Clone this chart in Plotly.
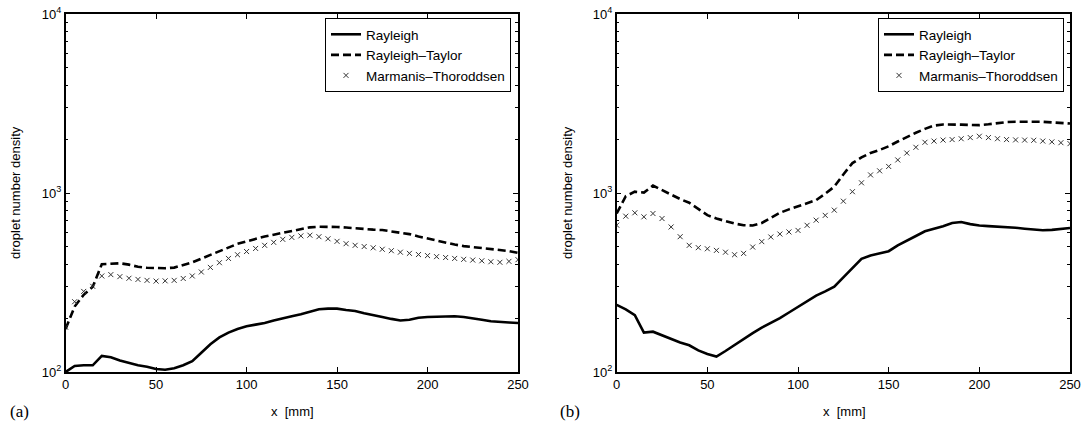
import plotly.graph_objects as go

x_mm = list(range(0, 251, 5))

a_rayleigh = [100, 108, 109, 109, 123, 121, 116, 112, 109, 107, 104, 103, 105, 109, 115, 128, 143, 156, 166, 174,
              180, 184, 188, 194, 200, 205, 210, 218, 224, 226, 226, 222, 219, 213, 207, 203, 198, 194, 196, 201,
              203, 204, 204, 205, 203, 200, 196, 192, 190, 189, 188]
a_rt = [174, 232, 270, 299, 400, 404, 405, 398, 387, 382, 380, 380, 383, 395, 410, 430, 451, 475, 499, 520,
        537, 555, 571, 585, 599, 617, 634, 643, 648, 648, 646, 641, 634, 628, 624, 621, 612, 600, 589, 572,
        556, 541, 528, 515, 505, 499, 494, 489, 484, 474, 463]
a_mt = [178, 247, 282, 301, 344, 350, 341, 334, 329, 325, 322, 323, 325, 333, 344, 362, 384, 408, 431, 452,
        471, 490, 510, 530, 551, 565, 576, 581, 570, 555, 537, 521, 510, 502, 494, 485, 476, 467, 460, 453,
        447, 441, 436, 431, 426, 422, 418, 413, 410, 415, 424]

b_rayleigh = [237, 224, 208, 166, 168, 160, 152, 146, 141, 132, 126, 122, 131, 142, 154, 165, 177, 188, 200, 215,
              231, 248, 267, 282, 300, 338, 380, 429, 448, 460, 473, 510, 544, 575, 611, 630, 652, 680, 688, 670,
              658, 653, 650, 647, 640, 632, 625, 619, 622, 630, 638]
b_rt = [768, 960, 1017, 1005, 1100, 1040, 975, 925, 882, 815, 752, 720, 696, 675, 661, 658, 680, 730, 775, 810,
        845, 880, 913, 990, 1085, 1270, 1469, 1580, 1672, 1740, 1824, 1940, 2056, 2170, 2282, 2380, 2414, 2420, 2410, 2400,
        2393, 2420, 2460, 2489, 2500, 2505, 2510, 2500, 2480, 2460, 2444]
b_mt = [661, 742, 775, 736, 768, 720, 646, 570, 510, 495, 488, 478, 467, 452, 460, 499, 535, 568, 590, 606,
        618, 660, 705, 750, 802, 900, 1017, 1140, 1262, 1330, 1407, 1530, 1672, 1800, 1920, 1950, 1975, 1988, 2010, 2040,
        2075, 2040, 2010, 1988, 1980, 1975, 1970, 1950, 1930, 1910, 1887]

series_names = ["Rayleigh", "Rayleigh–Taylor", "Marmanis–Thoroddsen"]
x_ticks = [0, 50, 100, 150, 200, 250]
y_major = [100, 1000, 10000]
y_major_text = ["10<sup>2</sup>", "10<sup>3</sup>", "10<sup>4</sup>"]
y_minor = [200, 300, 400, 500, 600, 700, 800, 900, 2000, 3000, 4000, 5000, 6000, 7000, 8000, 9000]
panel_labels = ["(a)", "(b)"]
x_title = "x  [mm]"
y_title = "droplet number density"

W, H = 1082, 427
FONT = "Liberation Sans"


def px(x):
    return x / W


def py(y):
    return 1 - y / H


fig = go.Figure()


def add_panel(xa, ya, leg, r, rt, mt):
    fig.add_trace(go.Scatter(x=x_mm, y=r, mode="lines", name=series_names[0],
                             line=dict(color="black", width=2.6), xaxis=xa, yaxis=ya, legend=leg))
    fig.add_trace(go.Scatter(x=x_mm, y=rt, mode="lines", name=series_names[1],
                             line=dict(color="black", width=2.6, dash="8px,4px"), xaxis=xa, yaxis=ya, legend=leg))
    fig.add_trace(go.Scatter(x=x_mm, y=mt, mode="markers", name=series_names[2],
                             marker=dict(symbol="x-thin", size=5, line=dict(width=1, color="#333333"), color="#333333"),
                             xaxis=xa, yaxis=ya, legend=leg))


add_panel("x", "y", "legend", a_rayleigh, a_rt, a_mt)
add_panel("x2", "y2", "legend2", b_rayleigh, b_rt, b_mt)

y_dom = [py(372), py(14)]
xa_dom = [px(65.6), px(518)]
xb_dom = [px(616.7), px(1070)]


def xax(domain, anchor):
    return dict(domain=domain, anchor=anchor, range=[0, 250], tickvals=x_ticks, ticks="inside", ticklen=5,
                tickcolor="black", showline=True, linecolor="black", linewidth=1.5, mirror="ticks",
                showgrid=False, zeroline=False, automargin=False, ticklabeloverflow="allow",
                tickfont=dict(family=FONT, size=13, color="black"))


def yax(domain, anchor):
    return dict(domain=domain, anchor=anchor, type="log", range=[2, 4], tickvals=y_major, ticktext=y_major_text,
                ticks="inside", ticklen=5, tickcolor="black", showline=True, linecolor="black", linewidth=1.5,
                mirror="ticks", showgrid=False, zeroline=False, automargin=False, ticklabeloverflow="allow",
                tickfont=dict(family=FONT, size=13, color="black"),
                minor=dict(tickvals=y_minor, ticks="inside", ticklen=3, tickcolor="black", showgrid=False))


leg_common = dict(bgcolor="white", bordercolor="black", borderwidth=1, xanchor="right", yanchor="top",
                  font=dict(family=FONT, size=13.5, color="black"), itemwidth=30, tracegroupgap=0)

fig.update_layout(
    width=W, height=H, margin=dict(l=0, r=0, t=0, b=0),
    paper_bgcolor="white", plot_bgcolor="white",
    xaxis=xax(xa_dom, "y"), yaxis=yax(y_dom, "x"),
    xaxis2=xax(xb_dom, "y2"), yaxis2=yax(y_dom, "x2"),
    legend=dict(x=px(511), y=py(18), **leg_common),
    legend2=dict(x=px(1064), y=py(18), **leg_common),
)

ann_font = dict(family=FONT, size=13, color="black")
for cx in [15, 567]:
    fig.add_annotation(x=px(cx), y=py(193), xref="paper", yref="paper", text=y_title, textangle=-90,
                       showarrow=False, font=ann_font, xanchor="center", yanchor="middle")
for cx in [292, 844]:
    fig.add_annotation(x=px(cx), y=py(411), xref="paper", yref="paper", text=x_title,
                       showarrow=False, font=ann_font, xanchor="center", yanchor="middle")
for cx, lab in zip([19, 570], panel_labels):
    fig.add_annotation(x=px(cx), y=py(411), xref="paper", yref="paper", text=lab,
                       showarrow=False, font=dict(family="Liberation Serif", size=17, color="black"),
                       xanchor="center", yanchor="middle")

# remove the page's default 8px body margin so the 1082x427 figure fills the window exactly
fig.write_html("out.html", config={"displayModeBar": False},
               post_script="document.body.style.margin='0';document.body.style.overflow='hidden';")
